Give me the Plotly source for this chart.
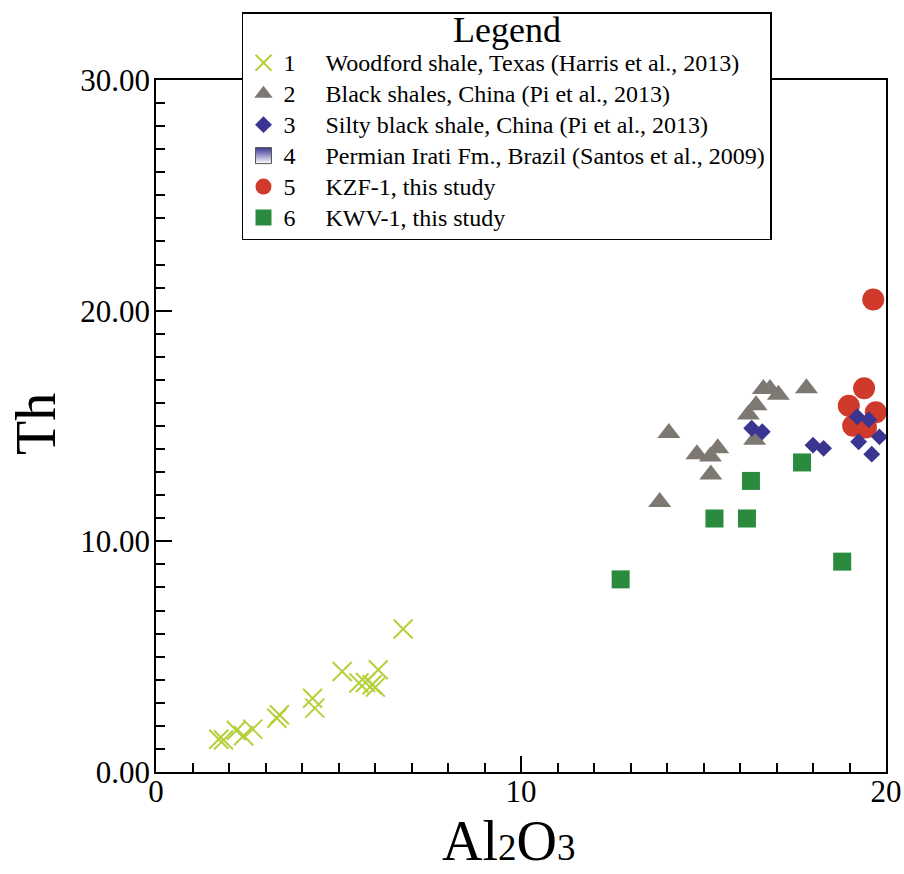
import plotly.graph_objects as go

# ---------------- data ----------------
woodford_al2o3 = [1.72, 1.85, 2.2, 2.4, 2.65, 3.31, 3.38, 4.29, 4.35, 5.1, 5.56, 5.74, 5.92, 6.01, 6.09, 6.77]
woodford_th    = [1.42, 1.39, 1.8, 1.57, 1.86, 2.33, 2.48, 3.2, 2.77, 4.36, 3.86, 3.88, 3.78, 3.68, 4.43, 6.2]

black_al2o3 = [13.8, 14.05, 14.82, 15.19, 15.39, 15.2, 16.23, 16.44, 16.4, 16.64, 16.82, 17.05, 17.82]
black_th    = [11.7, 14.7, 13.78, 13.68, 14.04, 12.9, 15.5, 15.9, 14.4, 16.6, 16.6, 16.35, 16.64]

silty_al2o3 = [16.32, 16.61, 18.0, 18.29, 19.21, 19.53, 19.25, 19.82, 19.61]
silty_th    = [14.9, 14.75, 14.17, 14.03, 15.4, 15.27, 14.32, 14.53, 13.78]

irati_al2o3 = [None]
irati_th    = [None]

kzf_al2o3 = [19.65, 19.4, 18.98, 19.72, 19.1, 19.45]
kzf_th    = [20.48, 16.64, 15.88, 15.6, 15.01, 14.94]

kwv_al2o3 = [12.73, 15.3, 16.19, 16.3, 17.7, 18.8]
kwv_th    = [8.35, 10.99, 10.99, 12.62, 13.42, 9.12]

names = [
    "Woodford shale, Texas (Harris et al., 2013)",
    "Black shales, China (Pi et al., 2013)",
    "Silty black shale, China (Pi et al., 2013)",
    "Permian Irati Fm., Brazil (Santos et al., 2009)",
    "KZF-1, this study",
    "KWV-1, this study",
]

FONT = "Liberation Serif, Times New Roman, serif"
SP = "&nbsp;" * 5


def label(i):
    return f"<span style='font-size:24px'>{i + 1}{SP}{names[i]}</span>"


fig = go.Figure()

fig.add_trace(go.Scatter(
    x=woodford_al2o3, y=woodford_th, mode="markers", name=label(0), legendrank=1,
    marker=dict(symbol="x-thin", size=19, line=dict(width=2, color="#b4d13a"), color="#b4d13a")))
fig.add_trace(go.Scatter(
    x=black_al2o3, y=black_th, mode="markers", name=label(1), legendrank=2,
    marker=dict(symbol="triangle-up", size=20, color="#7d7872", line=dict(width=0))))
fig.add_trace(go.Scatter(
    x=kzf_al2o3, y=kzf_th, mode="markers", name=label(4), legendrank=5,
    marker=dict(symbol="circle", size=22, color="#d03a2a", line=dict(width=0))))
fig.add_trace(go.Scatter(
    x=silty_al2o3, y=silty_th, mode="markers", name=label(2), legendrank=3,
    marker=dict(symbol="diamond", size=13, color="#3b3592", line=dict(width=0))))
fig.add_trace(go.Scatter(
    x=irati_al2o3, y=irati_th, mode="markers", name=label(3), legendrank=4,
    marker=dict(symbol="square", size=16, color="#3b3592",
                gradient=dict(type="vertical", color="white"),
                line=dict(width=1, color="#555555"))))
fig.add_trace(go.Scatter(
    x=kwv_al2o3, y=kwv_th, mode="markers", name=label(5), legendrank=6,
    marker=dict(symbol="square", size=18, color="#2a8a3e", line=dict(width=0))))

axis_common = dict(
    showline=True, linecolor="black", linewidth=1.5, mirror=True,
    ticks="inside", ticklen=16, tickwidth=1.5, tickcolor="black",
    showgrid=False, zeroline=False, automargin=False,
    tickfont=dict(family=FONT, size=31, color="black"),
    minor=dict(ticks="inside", ticklen=9, tickwidth=1.5, tickcolor="black", dtick=1, showgrid=False),
)

fig.update_xaxes(range=[0, 20], dtick=10, tickformat="d", ticklabelstandoff=-9, **axis_common)
fig.update_yaxes(range=[0, 30], dtick=10, tickformat=".2f", ticklabelstandoff=-2, **axis_common)

fig.add_annotation(
    text="Th", xref="paper", yref="paper", x=-0.1644, y=0.503, textangle=-90,
    showarrow=False, xanchor="center", yanchor="middle",
    font=dict(family=FONT, size=56, color="black"))
fig.add_annotation(
    text="Al<span style='font-size:37px'>2</span>O<span style='font-size:37px'>3</span>",
    xref="paper", yref="paper", x=0.4822, y=-0.0997, showarrow=False,
    xanchor="center", yanchor="middle",
    font=dict(family=FONT, size=56, color="black"))

fig.update_layout(
    width=904, height=874,
    margin=dict(l=156, r=18, t=80, b=102),
    paper_bgcolor="white", plot_bgcolor="white",
    showlegend=True,
    legend=dict(
        x=0.1178, y=1.098, xanchor="left", yanchor="top",
        bgcolor="white", bordercolor="black", borderwidth=1.5,
        font=dict(family=FONT, size=21.5, color="black"),
        title=dict(text="<span style='font-size:36px'>Legend</span>", side="top center",
                   font=dict(family=FONT, size=22, color="black")),
        traceorder="normal", itemwidth=30,
    ),
)

fig.write_html("out.html")
